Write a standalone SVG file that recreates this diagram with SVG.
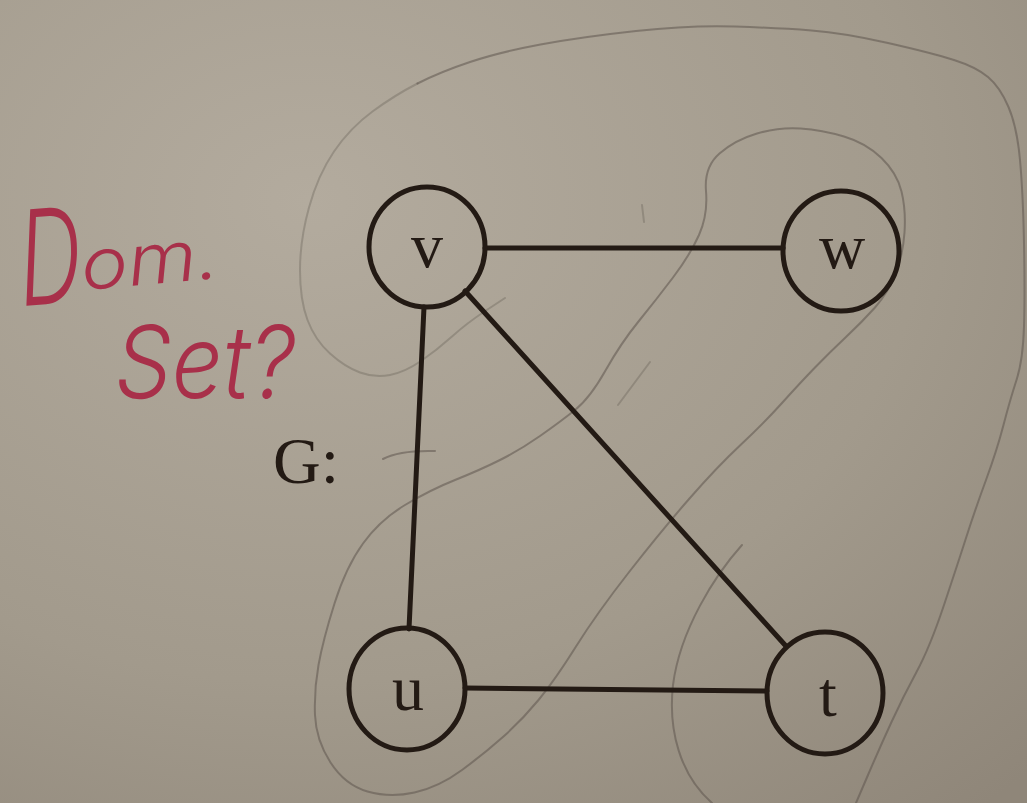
<svg xmlns="http://www.w3.org/2000/svg" width="1027" height="803" viewBox="0 0 1027 803">
<defs>
<radialGradient id="paper" cx="0.3" cy="0.25" r="1.0">
<stop offset="0" stop-color="#b3ab9e"/>
<stop offset="0.6" stop-color="#a29a8c"/>
<stop offset="1" stop-color="#8f8679"/>
</radialGradient>
</defs>
<style>
.node ellipse{fill:none;stroke:#231a14;stroke-width:5}
.node text{font-family:"Liberation Serif","Times New Roman",serif;font-size:64px;fill:#231a14;text-anchor:middle}
.edge{stroke:#231a14;stroke-width:5;fill:none;stroke-linecap:round}
.pencil{fill:none;stroke:#5e564e;stroke-width:2;stroke-linecap:round;stroke-linejoin:round;opacity:0.55}
.faint{opacity:0.32}
.red{font-family:Inter,Lato,"Open Sans","Liberation Sans",sans-serif;font-weight:300;font-style:italic;fill:#a8304a}
.label{font-family:"Liberation Serif","Times New Roman",serif;font-size:66px;fill:#231a14}
</style>
<rect width="1027" height="803" fill="url(#paper)"/>

<g id="pencil-marks">
<path class="pencil faint" d="M505,298 L486,310.5 Q467,323 452,336.5 Q437,350 421,361 Q405,372 390,375 Q375,378 360,372.5 Q345,367 330,353.5 Q315,340 307.5,320 Q300,300 300,270 Q300,240 309,207.5 Q318,175 334,151.5 Q350,128 372.5,111.5 Q395,95 417.5,83.5"/>
<path class="pencil" d="M417.5,83.5 Q440,72 470,62 Q500,52 540.5,44.5 Q581,37 636,31 Q691,25 735,26.5 Q779,28 811.5,30.5 Q844,33 888,43 Q932,53 954,60 Q976,67 988,77 Q1000,87 1008.5,107 Q1017,127 1020,160 Q1023,193 1024,243 Q1025,293 1024,326.5 Q1023,360 1016.5,380 Q1010,400 1003.5,425 Q997,450 986,480 Q975,510 966.5,536.5 Q958,563 944,605 Q930,647 916.5,672 Q903,697 891.5,722 Q880,747 868,775 L856,803"/>
<path class="pencil" d="M706,191 Q704,167 719.5,153.5 Q735,140 757,133.5 Q779,127 800.5,128.5 Q822,130 844,136.5 Q866,143 881.5,158 Q897,173 901.5,191.5 Q906,210 904.5,232.5 Q903,255 895.5,274 Q888,293 875,307.5 Q862,322 846,337 Q830,352 815,367.5 Q800,383 782,403 Q764,423 740.5,445 Q717,467 689.5,498.5 Q662,530 629.5,571.5 Q597,613 576,646.5 Q555,680 538.5,700 Q522,720 503.5,736.5 Q485,753 462,770 Q439,787 414.5,792.5 Q390,798 367.5,791.5 Q345,785 330.5,762.5 Q316,740 315,715 Q314,690 318.5,665 Q323,640 334.5,603.5 Q346,567 363,543.5 Q380,520 405,505 Q430,490 455,480 Q480,470 500,460 Q520,450 540,436 Q560,422 575,410 Q590,398 605.5,370.5 Q621,343 638.5,321.5 Q656,300 673,277.5 Q690,255 699,235 Q708,215 706,191 Z"/>
<path class="pencil" d="M742,545 C715,575 680,630 673,685 C668,730 680,775 712,803"/>
<path class="pencil faint" d="M642,205 L644,222"/>
<path class="pencil faint" d="M650,362 L618,405"/>
<path class="pencil" d="M383,459 Q400,450 435,451"/>
</g>

<g id="connectors">
<line class="edge" x1="485" y1="248" x2="783" y2="248"/>
<line class="edge" x1="424" y1="307" x2="409" y2="629"/>
<line class="edge" x1="465" y1="291" x2="785" y2="645"/>
<line class="edge" x1="465" y1="688" x2="767" y2="691"/>
</g>

<g id="node-v" class="node">
<ellipse cx="427" cy="247" rx="58" ry="60"/>
<text x="427" y="267">v</text>
</g>
<g id="node-w" class="node">
<ellipse cx="841" cy="251" rx="58" ry="60"/>
<text x="842" y="268">w</text>
</g>
<g id="node-u" class="node">
<ellipse cx="407" cy="689" rx="58" ry="61"/>
<text x="408" y="710">u</text>
</g>
<g id="node-t" class="node">
<ellipse cx="825" cy="693" rx="58" ry="61"/>
<text x="828" y="716">t</text>
</g>

<g id="label-G">
<text class="label" x="273" y="483">G:</text>
</g>

<g id="handwriting">
<text class="red" transform="translate(22,306) rotate(-4) scale(0.66,1)" font-size="132">D</text>
<text class="red" transform="rotate(-5 83 290)" x="83" y="290" font-size="70" textLength="138" lengthAdjust="spacingAndGlyphs">om.</text>
<text class="red" x="115" y="398" font-size="100" textLength="180" lengthAdjust="spacingAndGlyphs">Set?</text>
</g>
</svg>
